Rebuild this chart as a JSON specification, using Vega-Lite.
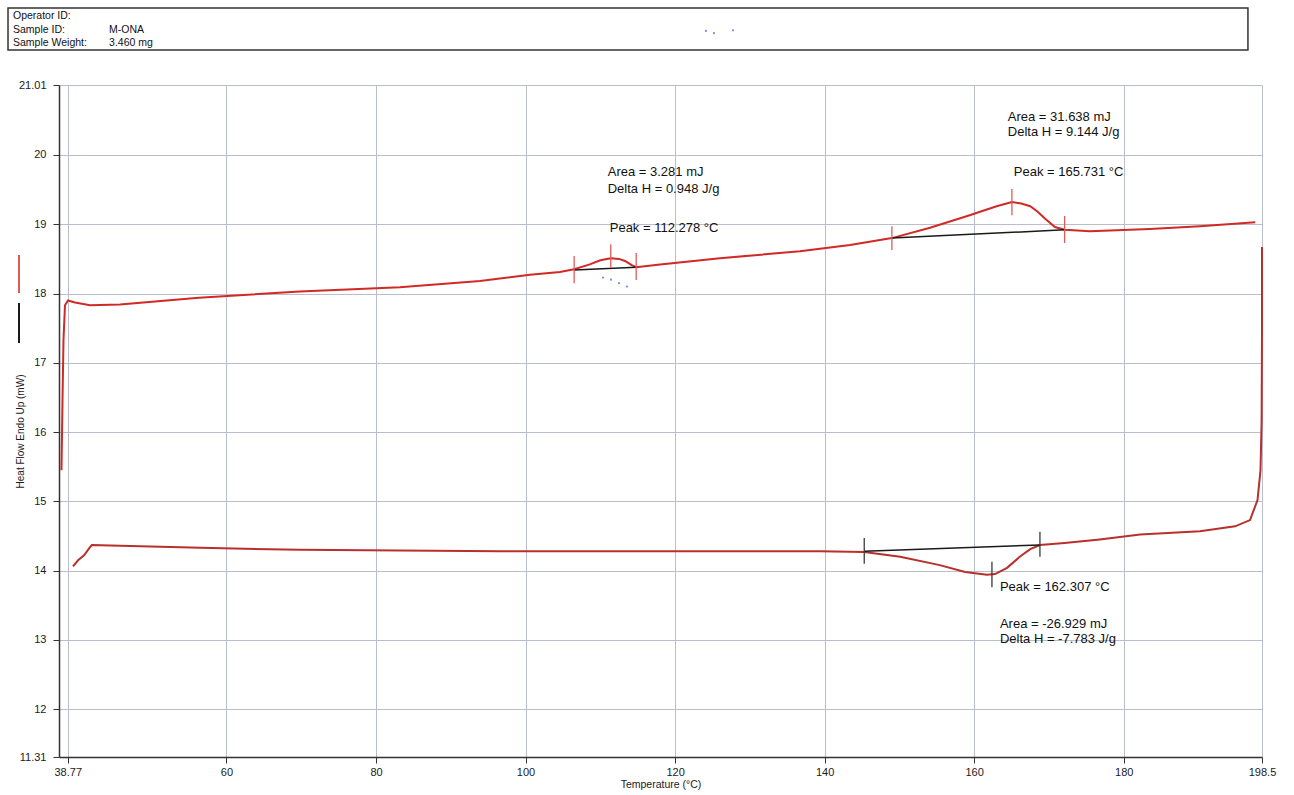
{
  "$schema": "https://vega.github.io/schema/vega-lite/v6.json",
  "width": 1203,
  "height": 672,
  "autosize": "none",
  "padding": {"left": 59, "top": 85, "right": 32, "bottom": 38},
  "background": "white",
  "config": {
    "view": {"stroke": null},
    "font": "Liberation Sans",
    "text": {"font": "Liberation Sans"}
  },
  "datasets": {
    "header": [{"x1": 30.78, "x2": 196.62, "y1": 22.12, "y2": 21.515}],
    "headerText": [
      {"t": 31.45, "hf": 22.0, "label": "Operator ID:"},
      {"t": 31.45, "hf": 21.81, "label": "Sample ID:"},
      {"t": 44.3, "hf": 21.81, "label": "M-ONA"},
      {"t": 31.45, "hf": 21.615, "label": "Sample Weight:"},
      {"t": 44.3, "hf": 21.615, "label": "3.460 mg"}
    ],
    "curve": [
      {"run": "heating", "i": 1, "t": 37.93, "hf": 15.45},
      {"run": "heating", "i": 2, "t": 38.07, "hf": 16.46},
      {"run": "heating", "i": 3, "t": 38.2, "hf": 17.33},
      {"run": "heating", "i": 4, "t": 38.4, "hf": 17.83},
      {"run": "heating", "i": 5, "t": 38.8, "hf": 17.9},
      {"run": "heating", "i": 6, "t": 39.74, "hf": 17.87},
      {"run": "heating", "i": 7, "t": 41.75, "hf": 17.83},
      {"run": "heating", "i": 8, "t": 45.76, "hf": 17.84},
      {"run": "heating", "i": 9, "t": 56.3, "hf": 17.94},
      {"run": "heating", "i": 10, "t": 69.8, "hf": 18.03},
      {"run": "heating", "i": 11, "t": 83.2, "hf": 18.09},
      {"run": "heating", "i": 12, "t": 93.9, "hf": 18.18},
      {"run": "heating", "i": 13, "t": 100.6, "hf": 18.27},
      {"run": "heating", "i": 14, "t": 104.6, "hf": 18.31},
      {"run": "heating", "i": 15, "t": 106.5, "hf": 18.35},
      {"run": "heating", "i": 16, "t": 108.6, "hf": 18.42},
      {"run": "heating", "i": 17, "t": 110.0, "hf": 18.48},
      {"run": "heating", "i": 18, "t": 111.4, "hf": 18.51},
      {"run": "heating", "i": 19, "t": 112.5, "hf": 18.5},
      {"run": "heating", "i": 20, "t": 113.3, "hf": 18.47},
      {"run": "heating", "i": 21, "t": 114.2, "hf": 18.41},
      {"run": "heating", "i": 22, "t": 114.8, "hf": 18.38},
      {"run": "heating", "i": 23, "t": 118.0, "hf": 18.42},
      {"run": "heating", "i": 24, "t": 126.0, "hf": 18.51},
      {"run": "heating", "i": 25, "t": 136.7, "hf": 18.61},
      {"run": "heating", "i": 26, "t": 143.4, "hf": 18.7},
      {"run": "heating", "i": 27, "t": 149.0, "hf": 18.8},
      {"run": "heating", "i": 28, "t": 154.1, "hf": 18.95},
      {"run": "heating", "i": 29, "t": 159.4, "hf": 19.13},
      {"run": "heating", "i": 30, "t": 163.0, "hf": 19.26},
      {"run": "heating", "i": 31, "t": 165.05, "hf": 19.32},
      {"run": "heating", "i": 32, "t": 166.3, "hf": 19.3},
      {"run": "heating", "i": 33, "t": 167.5, "hf": 19.26},
      {"run": "heating", "i": 34, "t": 168.5, "hf": 19.18},
      {"run": "heating", "i": 35, "t": 169.5, "hf": 19.08},
      {"run": "heating", "i": 36, "t": 170.8, "hf": 18.96},
      {"run": "heating", "i": 37, "t": 172.1, "hf": 18.92},
      {"run": "heating", "i": 38, "t": 175.5, "hf": 18.9},
      {"run": "heating", "i": 39, "t": 183.5, "hf": 18.93},
      {"run": "heating", "i": 40, "t": 190.2, "hf": 18.97},
      {"run": "heating", "i": 41, "t": 197.6, "hf": 19.03},
      {"run": "cooling", "i": 1, "t": 198.5, "hf": 18.67},
      {"run": "cooling", "i": 2, "t": 198.5, "hf": 17.47},
      {"run": "cooling", "i": 3, "t": 198.45, "hf": 16.17},
      {"run": "cooling", "i": 4, "t": 198.3, "hf": 15.45},
      {"run": "cooling", "i": 5, "t": 197.9, "hf": 15.02},
      {"run": "cooling", "i": 6, "t": 196.9, "hf": 14.73},
      {"run": "cooling", "i": 7, "t": 194.9, "hf": 14.64},
      {"run": "cooling", "i": 8, "t": 190.2, "hf": 14.57},
      {"run": "cooling", "i": 9, "t": 182.2, "hf": 14.52},
      {"run": "cooling", "i": 10, "t": 176.8, "hf": 14.45},
      {"run": "cooling", "i": 11, "t": 172.1, "hf": 14.4},
      {"run": "cooling", "i": 12, "t": 168.8, "hf": 14.37},
      {"run": "cooling", "i": 13, "t": 167.5, "hf": 14.31},
      {"run": "cooling", "i": 14, "t": 166.1, "hf": 14.2},
      {"run": "cooling", "i": 15, "t": 164.4, "hf": 14.04},
      {"run": "cooling", "i": 16, "t": 162.8, "hf": 13.95},
      {"run": "cooling", "i": 17, "t": 161.7, "hf": 13.94},
      {"run": "cooling", "i": 18, "t": 158.8, "hf": 13.98},
      {"run": "cooling", "i": 19, "t": 155.4, "hf": 14.08},
      {"run": "cooling", "i": 20, "t": 150.1, "hf": 14.2},
      {"run": "cooling", "i": 21, "t": 145.3, "hf": 14.27},
      {"run": "cooling", "i": 22, "t": 139.4, "hf": 14.28},
      {"run": "cooling", "i": 23, "t": 123.3, "hf": 14.28},
      {"run": "cooling", "i": 24, "t": 96.6, "hf": 14.28},
      {"run": "cooling", "i": 25, "t": 69.8, "hf": 14.3},
      {"run": "cooling", "i": 26, "t": 56.5, "hf": 14.33},
      {"run": "cooling", "i": 27, "t": 45.8, "hf": 14.36},
      {"run": "cooling", "i": 28, "t": 42.0, "hf": 14.37},
      {"run": "cooling", "i": 29, "t": 41.75, "hf": 14.34},
      {"run": "cooling", "i": 30, "t": 40.95, "hf": 14.22},
      {"run": "cooling", "i": 31, "t": 40.15, "hf": 14.15},
      {"run": "cooling", "i": 32, "t": 39.47, "hf": 14.06}
    ],
    "baselines": [
      {"t1": 106.5, "h1": 18.34, "t2": 114.8, "h2": 18.38},
      {"t1": 149.0, "h1": 18.8, "t2": 172.1, "h2": 18.92},
      {"t1": 145.3, "h1": 14.28, "t2": 168.8, "h2": 14.37}
    ],
    "ticks": [
      {"kind": "heating", "t": 106.5, "h1": 18.54, "h2": 18.15},
      {"kind": "heating", "t": 111.4, "h1": 18.71, "h2": 18.37},
      {"kind": "heating", "t": 114.8, "h1": 18.585, "h2": 18.195},
      {"kind": "heating", "t": 149.0, "h1": 18.97, "h2": 18.63},
      {"kind": "heating", "t": 165.05, "h1": 19.51, "h2": 19.13},
      {"kind": "heating", "t": 172.1, "h1": 19.12, "h2": 18.73},
      {"kind": "cooling", "t": 145.3, "h1": 14.47, "h2": 14.1},
      {"kind": "cooling", "t": 162.38, "h1": 14.13, "h2": 13.76},
      {"kind": "cooling", "t": 168.8, "h1": 14.56, "h2": 14.2}
    ],
    "legendLines": [
      {"kind": "heating", "t": 32.25, "h1": 18.556, "h2": 18.007},
      {"kind": "baseline", "t": 32.25, "h1": 17.863, "h2": 17.285}
    ],
    "notes": [
      {"t": 110.99, "hf": 19.755, "label": "Area = 3.281 mJ"},
      {"t": 110.99, "hf": 19.51, "label": "Delta H = 0.948 J/g"},
      {"t": 111.26, "hf": 18.945, "label": "Peak = 112.278 °C"},
      {"t": 164.5, "hf": 20.55, "label": "Area = 31.638 mJ"},
      {"t": 164.5, "hf": 20.33, "label": "Delta H = 9.144 J/g"},
      {"t": 165.3, "hf": 19.755, "label": "Peak = 165.731 °C"},
      {"t": 163.45, "hf": 13.76, "label": "Peak = 162.307 °C"},
      {"t": 163.45, "hf": 13.23, "label": "Area = -26.929 mJ"},
      {"t": 163.45, "hf": 13.01, "label": "Delta H = -7.783 J/g"}
    ],
    "specks": [
      {"t": 110.36, "hf": 18.23},
      {"t": 111.43, "hf": 18.2},
      {"t": 112.5, "hf": 18.15},
      {"t": 113.57, "hf": 18.1},
      {"t": 124.13, "hf": 21.79},
      {"t": 125.2, "hf": 21.76},
      {"t": 127.74, "hf": 21.8}
    ]
  },
  "layer": [
    {
      "data": {"name": "header"},
      "mark": {"type": "rect", "fill": "white", "stroke": "#333333", "strokeWidth": 1.5, "clip": false},
      "encoding": {
        "x": {"field": "x1", "type": "quantitative", "scale": {"domain": [37.6, 198.5], "nice": false, "zero": false},
          "axis": {
            "values": [38.77, 60, 80, 100, 120, 140, 160, 180, 198.5],
            "labelExpr": "datum.value + ''",
            "title": "Temperature (°C)",
            "grid": true, "gridColor": "#b9bdcc", "gridWidth": 1,
            "domainColor": "#333333", "domainWidth": 1.5,
            "tickColor": "#333333", "tickSize": 6,
            "labelFont": "Liberation Sans", "labelFontSize": 11, "labelColor": "#1a1a1a", "labelPadding": 3,
            "labelOverlap": false, "labelFlush": false,
            "titleFont": "Liberation Sans", "titleFontSize": 10.5, "titleFontWeight": "normal", "titleColor": "#1a1a1a", "titlePadding": 2
          }},
        "x2": {"field": "x2"},
        "y": {"field": "y1", "type": "quantitative", "scale": {"domain": [11.31, 21.01], "nice": false, "zero": false},
          "axis": {
            "values": [11.31, 12, 13, 14, 15, 16, 17, 18, 19, 20, 21.01],
            "labelExpr": "datum.value + ''",
            "title": "Heat Flow Endo Up (mW)",
            "grid": true, "gridColor": "#b9bdcc", "gridWidth": 1,
            "domainColor": "#333333", "domainWidth": 1.5,
            "tickColor": "#333333", "tickSize": 6,
            "labelFont": "Liberation Sans", "labelFontSize": 11, "labelColor": "#1a1a1a", "labelPadding": 7,
            "labelOverlap": false, "labelFlush": false,
            "titleFont": "Liberation Sans", "titleFontSize": 10, "titleFontWeight": "normal", "titleColor": "#1a1a1a",
            "titleAngle": 270, "titleAlign": "center", "titleBaseline": "middle", "titleX": -39, "titleY": 346
          }},
        "y2": {"field": "y2"}
      }
    },
    {
      "data": {"name": "headerText"},
      "mark": {"type": "text", "align": "left", "baseline": "middle", "fontSize": 10.5, "color": "#111111", "clip": false},
      "encoding": {
        "x": {"field": "t", "type": "quantitative"},
        "y": {"field": "hf", "type": "quantitative"},
        "text": {"field": "label"}
      }
    },
    {
      "data": {"name": "curve"},
      "mark": {"type": "line", "strokeWidth": 2, "clip": false},
      "encoding": {
        "x": {"field": "t", "type": "quantitative"},
        "y": {"field": "hf", "type": "quantitative"},
        "order": {"field": "i", "type": "quantitative"},
        "color": {"field": "run", "type": "nominal", "scale": {"domain": ["heating", "cooling"], "range": ["#d02a26", "#b8302c"]}, "legend": null}
      }
    },
    {
      "data": {"name": "baselines"},
      "mark": {"type": "rule", "color": "#1a1a1a", "strokeWidth": 1.5},
      "encoding": {
        "x": {"field": "t1", "type": "quantitative"},
        "y": {"field": "h1", "type": "quantitative"},
        "x2": {"field": "t2"},
        "y2": {"field": "h2"}
      }
    },
    {
      "data": {"name": "ticks"},
      "mark": {"type": "rule", "strokeWidth": 1.3},
      "encoding": {
        "x": {"field": "t", "type": "quantitative"},
        "y": {"field": "h1", "type": "quantitative"},
        "y2": {"field": "h2"},
        "stroke": {"field": "kind", "type": "nominal", "scale": {"domain": ["heating", "cooling", "baseline"], "range": ["#e05a5a", "#3a3a3a", "#1a1a1a"]}, "legend": null}
      }
    },
    {
      "data": {"name": "legendLines"},
      "mark": {"type": "rule", "strokeWidth": 2, "clip": false},
      "encoding": {
        "x": {"field": "t", "type": "quantitative"},
        "y": {"field": "h1", "type": "quantitative"},
        "y2": {"field": "h2"},
        "stroke": {"field": "kind", "type": "nominal", "scale": {"domain": ["heating", "cooling", "baseline"], "range": ["#d02a26", "#3a3a3a", "#1a1a1a"]}, "legend": null}
      }
    },
    {
      "data": {"name": "notes"},
      "mark": {"type": "text", "align": "left", "baseline": "middle", "fontSize": 13, "color": "#111111"},
      "encoding": {
        "x": {"field": "t", "type": "quantitative"},
        "y": {"field": "hf", "type": "quantitative"},
        "text": {"field": "label"}
      }
    },
    {
      "data": {"name": "specks"},
      "mark": {"type": "point", "filled": true, "size": 5, "color": "#3a5ee0", "clip": false},
      "encoding": {
        "x": {"field": "t", "type": "quantitative"},
        "y": {"field": "hf", "type": "quantitative"}
      }
    }
  ]
}
